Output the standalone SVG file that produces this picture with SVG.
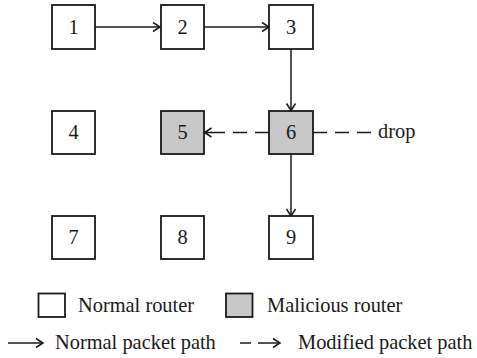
<svg xmlns="http://www.w3.org/2000/svg" width="477" height="358" viewBox="0 0 477 358">
  <style>
    .box { fill: #ffffff; stroke: #1a1a1a; stroke-width: 1.8; }
    .mal { fill: #c8c8c8; }
    .lbl { font-family: "Liberation Serif", "Times New Roman", serif; font-size: 20.4px; fill: #1a1a1a; }
    .mid { text-anchor: middle; }
    .edge { fill: none; stroke: #1a1a1a; stroke-width: 1.5; }
    .dash { stroke-dasharray: 14 8; }
  </style>
  <defs>
    <marker id="arr" markerUnits="userSpaceOnUse" markerWidth="12" markerHeight="12" refX="9" refY="6" orient="auto">
      <path d="M2,1.5 L9,6 L2,10.5" fill="none" stroke="#1a1a1a" stroke-width="1.5"/>
    </marker>
  </defs>

  <rect width="477" height="358" fill="#ffffff"/>

  <!-- connectors -->
  <g id="connectors">
    <line class="edge" x1="95" y1="27" x2="160" y2="27" marker-end="url(#arr)"/>
    <line class="edge" x1="204" y1="27" x2="269" y2="27" marker-end="url(#arr)"/>
    <line class="edge" x1="291" y1="49" x2="291" y2="110.5" marker-end="url(#arr)"/>
    <line class="edge" x1="291" y1="154" x2="291" y2="216" marker-end="url(#arr)"/>
    <line class="edge dash" x1="269" y1="132.5" x2="211" y2="132.5"/>
    <path class="edge" d="M212,132.5 L204.5,132.5 M211.5,128 L204.5,132.5 L211.5,137"/>
    <line class="edge dash" x1="313" y1="132.5" x2="372" y2="132.5"/>
  </g>

  <!-- routers -->
  <g id="n1"><rect class="box" x="52" y="5" width="43" height="44"/><text class="lbl mid" x="73.5" y="34">1</text></g>
  <g id="n2"><rect class="box" x="161" y="5" width="43" height="44"/><text class="lbl mid" x="182.5" y="34">2</text></g>
  <g id="n3"><rect class="box" x="269" y="5" width="44" height="44"/><text class="lbl mid" x="291" y="34">3</text></g>
  <g id="n4"><rect class="box" x="52" y="111" width="43" height="43"/><text class="lbl mid" x="73.5" y="139">4</text></g>
  <g id="n5"><rect class="box mal" x="161" y="111" width="43" height="43"/><text class="lbl mid" x="182.5" y="139">5</text></g>
  <g id="n6"><rect class="box mal" x="269" y="111" width="44" height="43"/><text class="lbl mid" x="291" y="139">6</text></g>
  <g id="n7"><rect class="box" x="52" y="216" width="43" height="43"/><text class="lbl mid" x="73.5" y="244">7</text></g>
  <g id="n8"><rect class="box" x="161" y="216" width="43" height="43"/><text class="lbl mid" x="182.5" y="244">8</text></g>
  <g id="n9"><rect class="box" x="269" y="216" width="44" height="43"/><text class="lbl mid" x="291" y="244">9</text></g>

  <text class="lbl" x="378" y="138">drop</text>

  <!-- legend -->
  <g id="legend">
    <rect class="box" x="38.5" y="293.5" width="26.5" height="23.5"/>
    <text class="lbl" x="78" y="312">Normal router</text>
    <rect class="box mal" x="226" y="293.5" width="26.5" height="23.5"/>
    <text class="lbl" x="267" y="312">Malicious router</text>

    <line class="edge" x1="8" y1="343" x2="43" y2="343" marker-end="url(#arr)"/>
    <text class="lbl" x="55" y="349">Normal packet path</text>
    <line class="edge" x1="240" y1="343" x2="251" y2="343"/>
    <line class="edge" x1="258" y1="343" x2="280" y2="343" marker-end="url(#arr)"/>
    <text class="lbl" x="298" y="349">Modified packet path</text>
  </g>
</svg>
